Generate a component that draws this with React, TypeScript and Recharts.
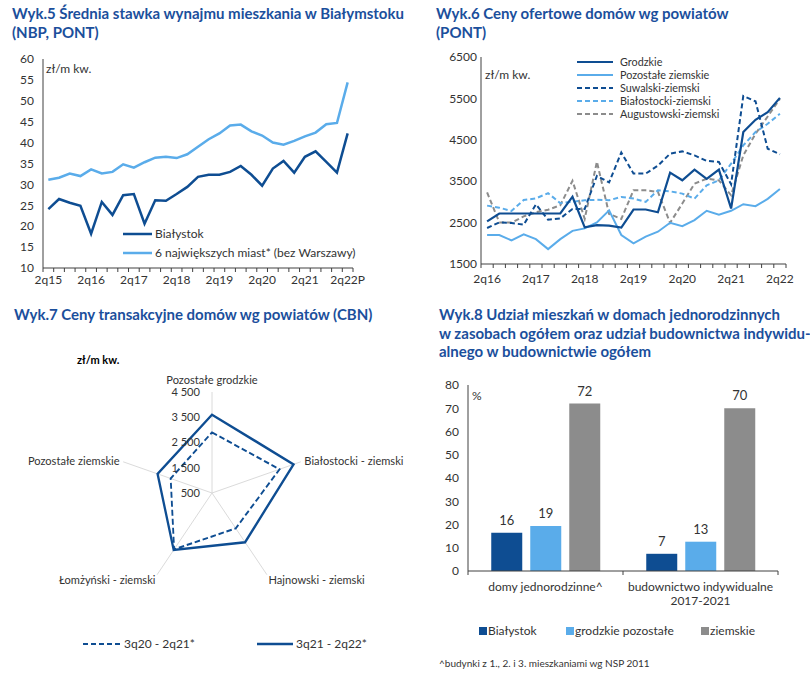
import React from "react";
import {
  LineChart,
  Line,
  XAxis,
  YAxis,
  BarChart,
  Bar,
  LabelList,
  RadarChart,
  Radar,
  PolarGrid,
  PolarAngleAxis,
  PolarRadiusAxis,
} from "recharts";

const DARK = "#0e4d92";
const LIGHT = "#5aacea";
const GRAY = "#8c8c8c";
const TITLE = "#1b4f9c";
const TEXT = "#333333";
const AXIS = "#404040";
const FONT = "Lato, 'Open Sans', sans-serif";

// Wyk.5 – rent per m2
const rentQuarters = [
  "2q15", "3q15", "4q15", "1q16", "2q16", "3q16", "4q16", "1q17", "2q17", "3q17",
  "4q17", "1q18", "2q18", "3q18", "4q18", "1q19", "2q19", "3q19", "4q19", "1q20",
  "2q20", "3q20", "4q20", "1q21", "2q21", "3q21", "4q21", "1q22", "2q22P",
];
const rentBialystok = [
  24.1, 26.5, 25.6, 24.9, 18.2, 25.8, 22.7, 27.4, 27.7, 20.6, 26.2, 26.1, 27.7, 29.4, 31.8,
  32.3, 32.3, 33.0, 34.4, 32.3, 29.7, 33.8, 35.6, 32.8, 36.6, 37.9, 35.4, 32.8, 42.2,
];
const rentBigCities = [
  31.1, 31.6, 32.6, 32.0, 33.6, 32.6, 33.0, 34.8, 34.0, 35.3, 36.4, 36.6, 36.3, 37.2, 39.0,
  40.8, 42.2, 44.1, 44.3, 42.7, 41.7, 40.0, 39.5, 40.4, 41.5, 42.4, 44.4, 44.7, 54.4,
];
const rentTicks = [10, 15, 20, 25, 30, 35, 40, 45, 50, 55, 60];

// Wyk.6 – offer prices of houses
const offerQuarters = [
  "2q16", "3q16", "4q16", "1q17", "2q17", "3q17", "4q17", "1q18", "2q18", "3q18",
  "4q18", "1q19", "2q19", "3q19", "4q19", "1q20", "2q20", "3q20", "4q20", "1q21",
  "2q21", "3q21", "4q21", "1q22", "2q22",
];
const offerGrodzkie = [
  2530, 2720, 2720, 2720, 2720, 2720, 2720, 3125, 2385, 2440, 2425, 2380, 2816,
  2816, 2750, 3707, 3522, 3780, 3555, 3780, 2840, 4686, 4983, 5168, 5513,
];
const offerPozostale = [
  2200, 2200, 2070, 2215, 2100, 1860, 2100, 2300, 2360, 2505, 2795, 2200, 2000,
  2160, 2280, 2495, 2415, 2560, 2785, 2690, 2785, 2945, 2896, 3073, 3314,
];
const offerSuwalski = [
  2370, 2505, 2490, 2450, 2940, 2570, 2600, 2830, 2830, 3630, 3470, 4195, 3683,
  3683, 3876, 4165, 4220, 4124, 3990, 3964, 3426, 5560, 5430, 4285, 4150,
];
const offerBialostocki = [
  2910, 2860, 2780, 3045, 3085, 3210, 2970, 3000, 3040, 3050, 3040, 3120, 3080,
  3000, 3280, 3255, 3200, 3080, 3400, 3520, 3924, 4365, 4686, 4887, 5128,
];
const offerAugustowski = [
  3230, 2505, 2500, 2650, 2750, 2810, 2920, 3510, 2590, 3970, 2710, 2590, 3280,
  3280, 3240, 2495, 2960, 3440, 3560, 3520, 3160, 4124, 4646, 5063, 5490,
];
const offerTicks = [1500, 2500, 3500, 4500, 5500, 6500];

// Wyk.7 – transaction prices (radar)
const radarCategories = [
  "Pozostałe grodzkie",
  "Białostocki - ziemski",
  "Hajnowski - ziemski",
  "Łomżyński - ziemski",
  "Pozostałe ziemskie",
];
const radarPrev = [2900, 3540, 2230, 3260, 2360];
const radarCurr = [3600, 4170, 2910, 3290, 2950];

// Wyk.8 – share of single-family housing
const shareCategories = ["domy jednorodzinne^", "budownictwo indywidualne\n2017-2021"];
const shareBialystok = [16.4, 7.4];
const shareGrodzkie = [19.4, 12.6];
const shareZiemskie = [72, 70];
const shareTicks = [0, 10, 20, 30, 40, 50, 60, 70, 80];

const rentData = rentQuarters.map((q, i) => ({
  q,
  bialystok: rentBialystok[i],
  cities: rentBigCities[i],
}));
const offerData = offerQuarters.map((q, i) => ({
  q,
  grodzkie: offerGrodzkie[i],
  pozostale: offerPozostale[i],
  suwalski: offerSuwalski[i],
  bialostocki: offerBialostocki[i],
  augustowski: offerAugustowski[i],
}));
const radarData = radarCategories.map((cat, i) => ({
  cat,
  prev: radarPrev[i],
  curr: radarCurr[i],
}));
const shareData = shareCategories.map((cat, i) => ({
  cat,
  b: shareBialystok[i],
  g: shareGrodzkie[i],
  z: shareZiemskie[i],
}));

// x ticks drawn on band edges, label every n-th band
function QuarterTick(props: any) {
  const { x, y, payload, index, step, every, last, labelDy } = props;
  return (
    <g>
      <line x1={x - step / 2} x2={x - step / 2} y1={y} y2={y + 4} stroke={AXIS} />
      {index === last && (
        <line x1={x + step / 2} x2={x + step / 2} y1={y} y2={y + 4} stroke={AXIS} />
      )}
      {index % every === 0 && (
        <text x={x} y={y + labelDy} textAnchor="middle" fontSize={12} fill={TEXT}>
          {payload.value}
        </text>
      )}
    </g>
  );
}

function GroupTick(props: any) {
  const { x, y, payload, index, step, last } = props;
  const lines = String(payload.value).split("\n");
  return (
    <g>
      <line x1={x - step / 2} x2={x - step / 2} y1={y} y2={y + 4} stroke={AXIS} />
      {index === last && (
        <line x1={x + step / 2} x2={x + step / 2} y1={y} y2={y + 4} stroke={AXIS} />
      )}
      <text x={x} y={y + 20} textAnchor="middle" fontSize={12} fill={TEXT}>
        {lines.map((l, i) => (
          <tspan key={i} x={x} dy={i === 0 ? 0 : 14}>
            {l}
          </tspan>
        ))}
      </text>
    </g>
  );
}

const RCX = 212;
const RCY = 148;
const RR = 101;
const RAD = Math.PI / 180;

function RadarAngleTick(props: any) {
  const { payload } = props;
  const a = payload.coordinate;
  const s = Math.sin(a * RAD);
  const c = Math.cos(a * RAD);
  const anchor = c > 0.1 ? "start" : c < -0.1 ? "end" : "middle";
  let d = 4;
  let dy = 4;
  if (s > 0.5) {
    d = 8;
    dy = 0;
  } else if (s < -0.5) {
    d = 3;
    dy = 7;
  }
  return (
    <text
      x={RCX + (RR + d) * c}
      y={RCY - (RR + d) * s + dy}
      textAnchor={anchor}
      fontSize={12}
      fill={TEXT}
    >
      {payload.value}
    </text>
  );
}

const fmtThousands = (v: number) =>
  v >= 1000 ? `${Math.floor(v / 1000)} ${String(v % 1000).padStart(3, "0")}` : String(v);

function RadiusTick(props: any) {
  const { x, y, payload } = props;
  return (
    <text x={x - 13} y={y + 4} textAnchor="end" fontSize={12} fill={TEXT}>
      {fmtThousands(payload.value)}
    </text>
  );
}

function Title({ x, y, lines }: { x: number; y: number; lines: string[] }) {
  return (
    <text x={x} y={y} fontSize={15} fontWeight={700} fill={TITLE}>
      {lines.map((l, i) => (
        <tspan key={i} x={x} dy={i === 0 ? 0 : 18.5}>
          {l}
        </tspan>
      ))}
    </text>
  );
}

function LegendLine({ x1, x2, y, color, dashed, width = 2.5 }: any) {
  return (
    <line
      x1={x1}
      x2={x2}
      y1={y}
      y2={y}
      stroke={color}
      strokeWidth={width}
      strokeDasharray={dashed ? "5 3" : undefined}
    />
  );
}

const offerLegend = [
  { name: "Grodzkie", color: DARK, dashed: false },
  { name: "Pozostałe ziemskie", color: LIGHT, dashed: false },
  { name: "Suwalski-ziemski", color: DARK, dashed: true },
  { name: "Białostocki-ziemski", color: LIGHT, dashed: true },
  { name: "Augustowski-ziemski", color: GRAY, dashed: true },
];

export default function App() {
  return (
    <div
      style={{
        position: "absolute",
        left: 0,
        top: 0,
        width: 810,
        height: 675,
        background: "#fff",
        fontFamily: FONT,
        overflow: "hidden",
      }}
    >
      {/* Wyk.5 */}
      <div style={{ position: "absolute", left: 0, top: 50 }}>
        <LineChart
          width={370}
          height={240}
          data={rentData}
          margin={{ top: 9, right: 17, bottom: 0, left: 8 }}
        >
          <XAxis
            dataKey="q"
            scale="band"
            interval={0}
            height={22}
            tickSize={0}
            tickMargin={0}
            tickLine={false}
            axisLine={{ stroke: AXIS }}
            tick={<QuarterTick step={310 / 29} every={4} last={28} labelDy={16} />}
          />
          <YAxis
            domain={[10, 60]}
            ticks={rentTicks}
            width={35}
            tickSize={0}
            tickMargin={9}
            tickLine={false}
            axisLine={{ stroke: AXIS }}
            tick={{ fontSize: 12, fill: TEXT }}
            interval={0}
          />
          <Line dataKey="bialystok" stroke={DARK} strokeWidth={2.5} dot={false} isAnimationActive={false} />
          <Line dataKey="cities" stroke={LIGHT} strokeWidth={2.5} dot={false} isAnimationActive={false} />
        </LineChart>
      </div>

      {/* Wyk.6 */}
      <div style={{ position: "absolute", left: 400, top: 50 }}>
        <LineChart
          width={400}
          height={240}
          data={offerData}
          margin={{ top: 7, right: 14, bottom: 0, left: 40 }}
        >
          <XAxis
            dataKey="q"
            scale="band"
            interval={0}
            height={26}
            tickSize={0}
            tickMargin={0}
            tickLine={false}
            axisLine={{ stroke: AXIS }}
            tick={<QuarterTick step={305 / 25} every={4} last={24} labelDy={19} />}
          />
          <YAxis
            domain={[1500, 6500]}
            ticks={offerTicks}
            width={41}
            tickSize={0}
            tickMargin={4}
            tickLine={false}
            axisLine={{ stroke: AXIS }}
            tick={{ fontSize: 12, fill: TEXT }}
            interval={0}
          />
          <Line dataKey="augustowski" stroke={GRAY} strokeWidth={2} strokeDasharray="5 3" dot={false} isAnimationActive={false} />
          <Line dataKey="bialostocki" stroke={LIGHT} strokeWidth={2} strokeDasharray="5 3" dot={false} isAnimationActive={false} />
          <Line dataKey="suwalski" stroke={DARK} strokeWidth={2} strokeDasharray="5 3" dot={false} isAnimationActive={false} />
          <Line dataKey="pozostale" stroke={LIGHT} strokeWidth={2} dot={false} isAnimationActive={false} />
          <Line dataKey="grodzkie" stroke={DARK} strokeWidth={2.2} dot={false} isAnimationActive={false} />
        </LineChart>
      </div>

      {/* Wyk.7 */}
      <div
        style={{
          position: "absolute",
          left: 0,
          top: 345,
          transform: "scaleX(0.925)",
          transformOrigin: `${RCX}px ${RCY}px`,
        }}
      >
        <RadarChart
          width={424}
          height={300}
          data={radarData}
          cx={RCX}
          cy={RCY}
          outerRadius={RR}
          margin={{ top: 0, right: 0, bottom: 0, left: 0 }}
        >
          <PolarGrid polarRadius={[]} stroke="#d9d9d9" />
          <PolarAngleAxis dataKey="cat" axisLine={false} tickLine={false} tick={<RadarAngleTick />} />
          <PolarRadiusAxis
            angle={90}
            type="number"
            domain={[500, 4500]}
            tickCount={5}
            allowDataOverflow
            axisLine={false}
            tick={<RadiusTick />}
          />
          <Radar dataKey="prev" stroke={DARK} strokeWidth={2} strokeDasharray="6 3" fill="none" isAnimationActive={false} />
          <Radar dataKey="curr" stroke={DARK} strokeWidth={2.5} fill="none" isAnimationActive={false} />
        </RadarChart>
      </div>

      {/* Wyk.8 */}
      <div style={{ position: "absolute", left: 400, top: 370 }}>
        <BarChart
          width={400}
          height={240}
          data={shareData}
          margin={{ top: 15, right: 22, bottom: 0, left: 0 }}
          barCategoryGap="15%"
          barGap={8}
        >
          <XAxis
            dataKey="cat"
            interval={0}
            height={39}
            tickSize={0}
            tickMargin={0}
            tickLine={false}
            axisLine={{ stroke: AXIS }}
            tick={<GroupTick step={310 / 2} last={1} />}
          />
          <YAxis
            domain={[0, 80]}
            ticks={shareTicks}
            width={68}
            tickSize={0}
            tickMargin={9}
            tickLine={false}
            axisLine={{ stroke: AXIS }}
            tick={{ fontSize: 12, fill: TEXT }}
            interval={0}
          />
          <Bar dataKey="b" fill={DARK} isAnimationActive={false}>
            <LabelList dataKey="b" position="top" offset={8} fontSize={13} fill={TEXT} formatter={(v: any) => Math.round(Number(v))} />
          </Bar>
          <Bar dataKey="g" fill={LIGHT} isAnimationActive={false}>
            <LabelList dataKey="g" position="top" offset={8} fontSize={13} fill={TEXT} formatter={(v: any) => Math.round(Number(v))} />
          </Bar>
          <Bar dataKey="z" fill={GRAY} isAnimationActive={false}>
            <LabelList dataKey="z" position="top" offset={8} fontSize={13} fill={TEXT} formatter={(v: any) => Math.round(Number(v))} />
          </Bar>
        </BarChart>
      </div>

      {/* titles, legends, notes */}
      <svg
        width={810}
        height={675}
        style={{ position: "absolute", left: 0, top: 0, pointerEvents: "none" }}
      >
        <Title x={12} y={19} lines={["Wyk.5 Średnia stawka wynajmu mieszkania w Białymstoku", "(NBP, PONT)"]} />
        <Title x={436} y={19} lines={["Wyk.6 Ceny ofertowe domów wg powiatów", "(PONT)"]} />
        <Title x={14} y={320} lines={["Wyk.7 Ceny transakcyjne domów wg powiatów (CBN)"]} />
        <Title
          x={439}
          y={320}
          lines={[
            "Wyk.8 Udział mieszkań w domach jednorodzinnych",
            "w zasobach ogółem oraz udział budownictwa indywidu-",
            "alnego w budownictwie ogółem",
          ]}
        />

        {/* Wyk.5 unit + legend */}
        <text x={46} y={73} fontSize={12} fill={TEXT}>zł/m kw.</text>
        <LegendLine x1={123} x2={152} y={234} color={DARK} />
        <text x={155} y={238} fontSize={12} fill={TEXT}>Białystok</text>
        <LegendLine x1={123} x2={152} y={253} color={LIGHT} />
        <text x={155} y={257} fontSize={12} fill={TEXT}>6 największych miast* (bez Warszawy)</text>

        {/* Wyk.6 unit + legend */}
        <text x={485} y={79} fontSize={12} fill={TEXT}>zł/m kw.</text>
        {offerLegend.map((l, i) => (
          <g key={l.name}>
            <LegendLine x1={577} x2={613} y={62 + 13 * i} color={l.color} dashed={l.dashed} width={2} />
            <text x={620} y={65.8 + 13 * i} fontSize={10.8} fill={TEXT}>
              {l.name}
            </text>
          </g>
        ))}

        {/* Wyk.7 unit + legend */}
        <text x={77} y={364} fontSize={11} fontWeight={700} fill="#000">zł/m kw.</text>
        <LegendLine x1={83} x2={122} y={644} color={DARK} dashed width={2} />
        <text x={124} y={648} fontSize={12} fill={TEXT}>3q20 - 2q21*</text>
        <LegendLine x1={257} x2={293} y={644} color={DARK} width={2.5} />
        <text x={296} y={648} fontSize={12} fill={TEXT}>3q21 - 2q22*</text>

        {/* Wyk.8 unit + legend + note */}
        <text x={472} y={400} fontSize={12} fill={TEXT}>%</text>
        <rect x={479} y={627} width={8} height={8} fill={DARK} />
        <text x={488} y={635} fontSize={12} fill={TEXT}>Białystok</text>
        <rect x={566} y={627} width={8} height={8} fill={LIGHT} />
        <text x={575} y={635} fontSize={12} fill={TEXT}>grodzkie pozostałe</text>
        <rect x={701} y={627} width={8} height={8} fill={GRAY} />
        <text x={710} y={635} fontSize={12} fill={TEXT}>ziemskie</text>
        <text x={439} y={667} fontSize={10} fill={TEXT}>^budynki z 1., 2. i 3. mieszkaniami wg NSP 2011</text>
      </svg>
    </div>
  );
}
